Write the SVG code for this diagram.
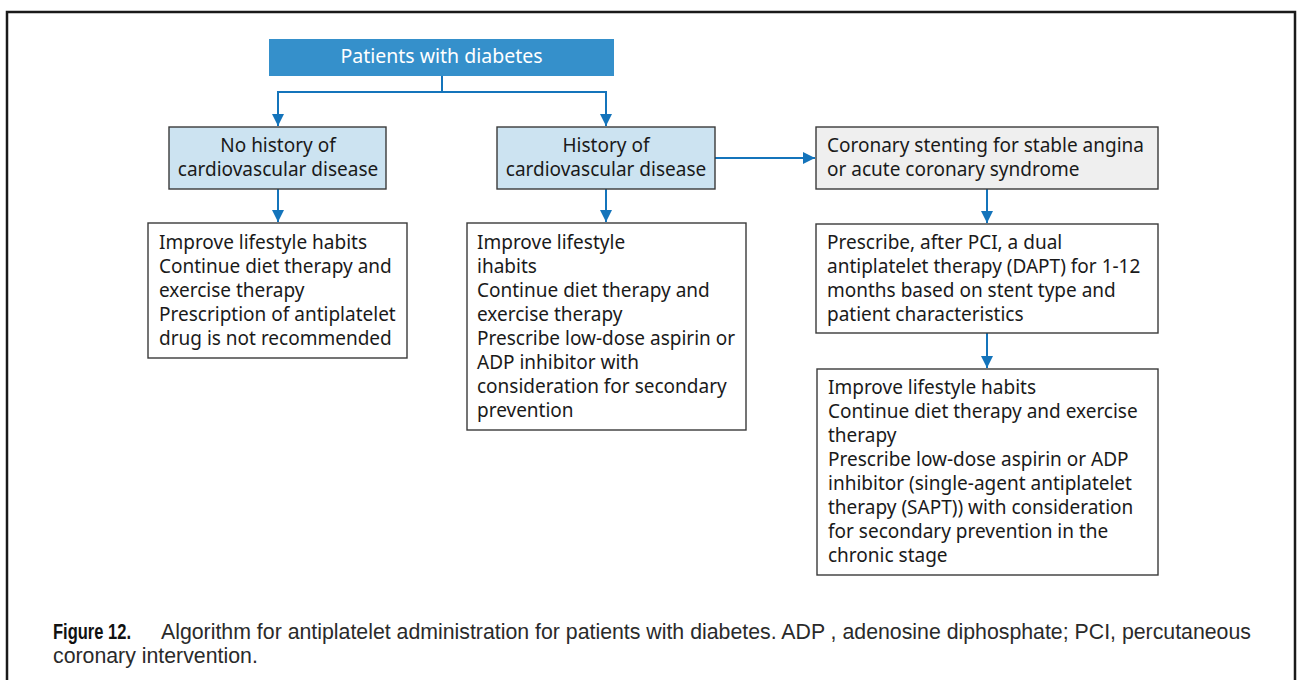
<svg xmlns="http://www.w3.org/2000/svg" width="1298" height="680" viewBox="0 0 1298 680">
  <defs>
    <marker id="arrow" markerUnits="userSpaceOnUse" markerWidth="14" markerHeight="12" refX="12" refY="6" orient="auto">
      <path d="M0,0 L12,6 L0,12 Z" fill="#1474bb"/>
    </marker>
  </defs>
  <style>
    .frame { fill: none; stroke: #1a1a1a; stroke-width: 2.5; }
    .box { stroke: #3a3a3a; stroke-width: 1.4; }
    .blue { fill: #cce3f1; }
    .grey { fill: #efefef; }
    .white { fill: #ffffff; }
    .txt { font-family: "Noto Sans", "Open Sans", sans-serif; font-size: 19px; fill: #1a1a1a; }
    .ctr { text-anchor: middle; }
    .head { font-family: "Noto Sans", "Open Sans", sans-serif; font-size: 19.5px; fill: #ffffff; text-anchor: middle; }
    .link { fill: none; stroke: #1474bb; stroke-width: 2; }
    .cap { font-family: "Liberation Sans", Arial, sans-serif; font-size: 21.3px; fill: #2a2a2a; }
    .capb { font-family: "Liberation Sans Narrow", "Liberation Sans", Arial, sans-serif; font-size: 21.3px; font-weight: bold; fill: #111111; }
  </style>

  <rect width="1298" height="680" fill="#ffffff"/>
  <path class="frame" d="M7,682 V12 H1295 V682"/>

  <g id="connectors">
    <path class="link" d="M442,76 V92 H278 V126" marker-end="url(#arrow)"/>
    <path class="link" d="M442,92 H606 V126" marker-end="url(#arrow)"/>
    <path class="link" d="M278,189 V222" marker-end="url(#arrow)"/>
    <path class="link" d="M606,189 V222" marker-end="url(#arrow)"/>
    <path class="link" d="M715,158 H815" marker-end="url(#arrow)"/>
    <path class="link" d="M987,189 V223" marker-end="url(#arrow)"/>
    <path class="link" d="M987,333 V368" marker-end="url(#arrow)"/>
  </g>

  <g id="patients">
    <rect x="269" y="39" width="345" height="37" fill="#3590cb"/>
    <text class="head" x="441.5" y="63">Patients with diabetes</text>
  </g>

  <g id="no-history">
    <rect class="box blue" x="169" y="127" width="217" height="62"/>
    <text class="txt ctr" x="278" y="152">No history of</text>
    <text class="txt ctr" x="278" y="176">cardiovascular disease</text>
  </g>

  <g id="history">
    <rect class="box blue" x="497" y="127" width="218" height="62"/>
    <text class="txt ctr" x="606" y="152">History of</text>
    <text class="txt ctr" x="606" y="176">cardiovascular disease</text>
  </g>

  <g id="stenting">
    <rect class="box grey" x="816" y="127" width="342" height="62"/>
    <text class="txt" x="827" y="152">Coronary stenting for stable angina</text>
    <text class="txt" x="827" y="176">or acute coronary syndrome</text>
  </g>

  <g id="no-history-care">
    <rect class="box white" x="148" y="223" width="259" height="135"/>
    <text class="txt" x="159" y="249">Improve lifestyle habits</text>
    <text class="txt" x="159" y="273">Continue diet therapy and</text>
    <text class="txt" x="159" y="297">exercise therapy</text>
    <text class="txt" x="159" y="321">Prescription of antiplatelet</text>
    <text class="txt" x="159" y="345">drug is not recommended</text>
  </g>

  <g id="history-care">
    <rect class="box white" x="467" y="223" width="279" height="207"/>
    <text class="txt" x="477" y="249">Improve lifestyle</text>
    <text class="txt" x="477" y="273">ihabits</text>
    <text class="txt" x="477" y="297">Continue diet therapy and</text>
    <text class="txt" x="477" y="321">exercise therapy</text>
    <text class="txt" x="477" y="345">Prescribe low-dose aspirin or</text>
    <text class="txt" x="477" y="369">ADP inhibitor with</text>
    <text class="txt" x="477" y="393">consideration for secondary</text>
    <text class="txt" x="477" y="417">prevention</text>
  </g>

  <g id="dapt">
    <rect class="box white" x="816" y="224" width="342" height="109"/>
    <text class="txt" x="827" y="249">Prescribe, after PCI, a dual</text>
    <text class="txt" x="827" y="273">antiplatelet therapy (DAPT) for 1-12</text>
    <text class="txt" x="827" y="297">months based on stent type and</text>
    <text class="txt" x="827" y="321">patient characteristics</text>
  </g>

  <g id="sapt">
    <rect class="box white" x="817" y="369" width="341" height="206"/>
    <text class="txt" x="828" y="394">Improve lifestyle habits</text>
    <text class="txt" x="828" y="418">Continue diet therapy and exercise</text>
    <text class="txt" x="828" y="442">therapy</text>
    <text class="txt" x="828" y="466">Prescribe low-dose aspirin or ADP</text>
    <text class="txt" x="828" y="490">inhibitor (single-agent antiplatelet</text>
    <text class="txt" x="828" y="514">therapy (SAPT)) with consideration</text>
    <text class="txt" x="828" y="538">for secondary prevention in the</text>
    <text class="txt" x="828" y="562">chronic stage</text>
  </g>

  <g id="caption">
    <text class="capb" x="53" y="639" textLength="78" lengthAdjust="spacingAndGlyphs">Figure 12.</text>
    <text class="cap" x="161" y="639">Algorithm for antiplatelet administration for patients with diabetes. ADP , adenosine diphosphate; PCI, percutaneous</text>
    <text class="cap" x="53" y="663">coronary intervention.</text>
  </g>
</svg>
